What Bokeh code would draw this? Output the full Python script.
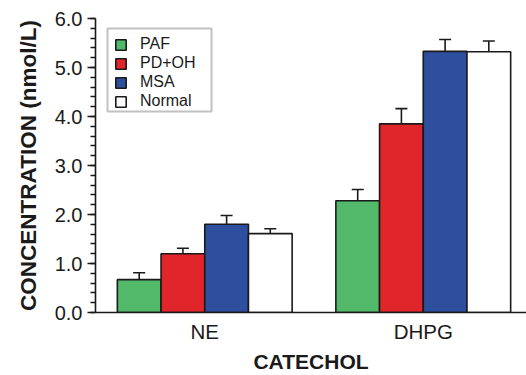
from bokeh.plotting import figure
from bokeh.models import ColumnDataSource, FixedTicker, PrintfTickFormatter, Range1d, Whisker, Legend, LegendItem, TeeHead, BoxAnnotation
from bokeh.embed import file_html
from bokeh.resources import INLINE

# ---- data ----
categories = ["NE", "DHPG"]
groups = ["PAF", "PD+OH", "MSA", "Normal"]
means = {
    "PAF":    [0.67, 2.28],
    "PD+OH":  [1.20, 3.85],
    "MSA":    [1.80, 5.33],
    "Normal": [1.61, 5.32],
}
errors = {
    "PAF":    [0.14, 0.23],
    "PD+OH":  [0.11, 0.31],
    "MSA":    [0.18, 0.24],
    "Normal": [0.10, 0.22],
}
colors = {"PAF": "#53b96a", "PD+OH": "#e0252b", "MSA": "#2e4e9e", "Normal": "#ffffff"}
y_ticks = [0, 1, 2, 3, 4, 5, 6]

FONT = "Liberation Sans"
INK = "#1a1a1a"

p = figure(width=526, height=375, output_backend="svg", toolbar_location=None,
           min_border_left=95, min_border_right=0, min_border_top=18, min_border_bottom=63,
           x_range=Range1d(0.5, 2.4725), y_range=Range1d(0, 6))
p.outline_line_color = None
p.xgrid.visible = False
p.ygrid.visible = False
p.background_fill_color = "white"
p.border_fill_color = "white"

bar_w = 0.2
offsets = [-0.3, -0.1, 0.1, 0.3]
items = []
for g, off in zip(groups, offsets):
    xs = [i + 1 + off for i in range(len(categories))]
    tops = means[g]
    uppers = [m + e for m, e in zip(means[g], errors[g])]
    src = ColumnDataSource(dict(x=xs, top=tops, upper=uppers))
    w = Whisker(base="x", lower="top", upper="upper", source=src,
                line_color=INK, line_width=1.6, lower_head=None,
                upper_head=TeeHead(size=12, line_color=INK, line_width=1.6))
    p.add_layout(w)
    r = p.vbar(x="x", top="top", width=bar_w, source=src, fill_color=colors[g],
               line_color=INK, line_width=1.6)
    items.append(LegendItem(label=g, renderers=[r]))

# legend frame (screen units, relative to the plot frame's bottom-left)
legend_box = BoxAnnotation(left=12, right=116, bottom=201, top=284,
                           left_units="screen", right_units="screen",
                           bottom_units="screen", top_units="screen",
                           fill_color="white", fill_alpha=1,
                           line_color="#333333", line_width=2, level="annotation")
p.add_layout(legend_box)

legend = Legend(items=items, location=(19, 202))
legend.border_line_color = None
legend.background_fill_alpha = 0
legend.padding = 4
legend.spacing = 1
legend.margin = 0
legend.glyph_width = 13
legend.glyph_height = 13
legend.label_standoff = 13
legend.label_text_font = FONT
legend.label_text_font_size = "16px"
legend.label_text_color = INK
legend.label_height = 18
p.add_layout(legend)

# y axis
p.yaxis.ticker = FixedTicker(ticks=y_ticks, minor_ticks=[t / 5 for t in range(0, 31)])
p.yaxis.formatter = PrintfTickFormatter(format="%.1f")
p.yaxis.axis_label = "CONCENTRATION (nmol/L)"
p.yaxis.axis_label_text_font = FONT
p.yaxis.axis_label_text_font_style = "bold"
p.yaxis.axis_label_text_font_size = "22.5px"
p.yaxis.axis_label_text_color = INK
p.yaxis.axis_label_standoff = 11
p.yaxis.major_label_text_font = FONT
p.yaxis.major_label_text_font_size = "20px"
p.yaxis.major_label_text_color = INK
p.yaxis.major_label_standoff = 5
p.yaxis.major_tick_out = 8
p.yaxis.major_tick_in = 0
p.yaxis.minor_tick_out = 5
p.yaxis.minor_tick_in = 0
p.yaxis.axis_line_width = 1.6
p.yaxis.major_tick_line_width = 1.6
p.yaxis.minor_tick_line_width = 1.4
p.yaxis.axis_line_color = INK
p.yaxis.major_tick_line_color = INK
p.yaxis.minor_tick_line_color = INK

# x axis
p.xaxis.ticker = FixedTicker(ticks=[1, 2])
p.xaxis.major_label_overrides = {1: categories[0], 2: categories[1]}
p.xaxis.axis_label = "CATECHOL"
p.xaxis.axis_label_text_font = FONT
p.xaxis.axis_label_text_font_style = "bold"
p.xaxis.axis_label_text_font_size = "21px"
p.xaxis.axis_label_text_color = INK
p.xaxis.axis_label_standoff = 4
p.xaxis.major_label_text_font = FONT
p.xaxis.major_label_text_font_size = "20.5px"
p.xaxis.major_label_text_color = INK
p.xaxis.major_label_standoff = 1
p.xaxis.major_tick_line_color = None
p.xaxis.minor_tick_line_color = None
p.xaxis.axis_line_width = 1.6
p.xaxis.axis_line_color = INK

open("out.html", "w").write(file_html(p, INLINE))
